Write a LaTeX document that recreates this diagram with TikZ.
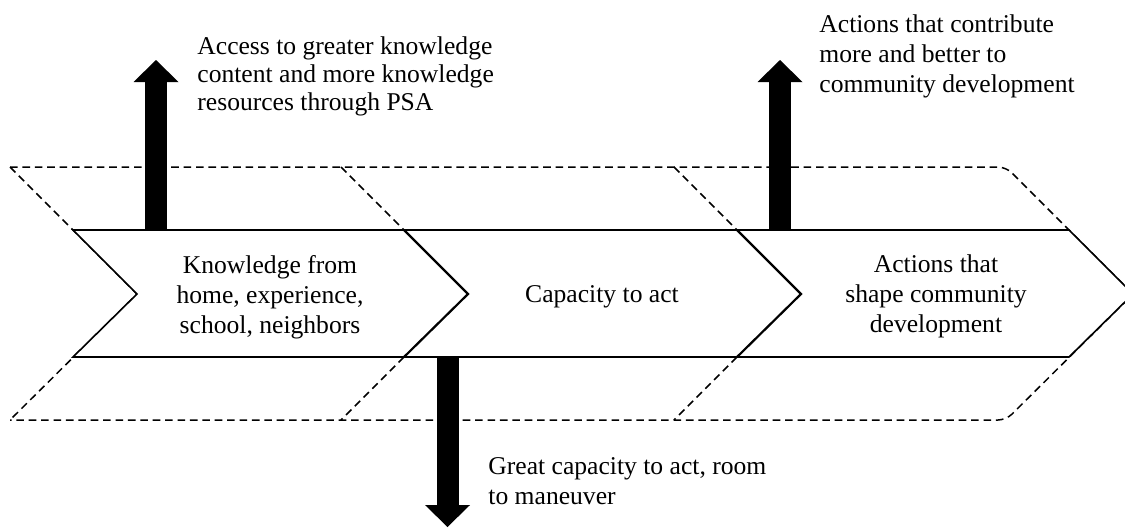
\documentclass[tikz,border=0pt]{standalone}
\usepackage{fontspec}
\setmainfont{Liberation Serif}
\usepackage{tikz}
\usetikzlibrary{arrows.meta}
\usetikzlibrary{positioning}
\tikzset{
	band text/.style={align=center,inner sep=0pt,font=\fontsize{12.8pt}{15pt}\selectfont},
	side text/.style={align=left,inner sep=0pt,anchor=north west,font=\fontsize{12.8pt}{15pt}\selectfont},
	band line/.style={line width=0.8pt,line join=miter},
	cut line/.style={line width=1.1pt,line join=miter},
	dash line/.style={line width=0.75pt,dash pattern=on 3.8pt off 2.4pt},
	block arrow/.style={line width=11pt,-{Triangle[width=22.5pt,length=11pt,line width=0pt]}}
}

\begin{document}
\begin{tikzpicture}[x=0.5pt,y=-0.5pt]
	\useasboundingbox (0,0) rectangle (1125,527);
	\clip (0,0) rectangle (1125,527);
	% outer frame
	\coordinate (otl) at (10,167);
	\coordinate (otr) at (1006,167);
	\coordinate (tip) at (1133,294);
	\coordinate (obr) at (1006,420);
	\coordinate (obl) at (10,420);
	\coordinate (notch) at (137,294);
	% band
	\coordinate (btl) at (73,230);
	\coordinate (btr) at (1069,230);
	\coordinate (bbr) at (1069,357);
	\coordinate (bbl) at (73,357);
	\draw[dash line,rounded corners=4pt] (otl) -- (otr) -- (tip) -- (obr) -- (obl);
	\draw[dash line] (otl) -- (notch) -- (obl);
	\draw[band line,fill=white] (btl) -- (btr) -- (tip) -- (bbr) -- (bbl) -- (notch) -- cycle;
	% first cut
	\coordinate (d1t) at (341,167);
	\coordinate (d1a) at (404,230);
	\coordinate (d1) at (468,294);
	\coordinate (d1b) at (404,357);
	\coordinate (d1d) at (341,420);
	\draw[dash line] (d1t) -- (d1a);
	\draw[cut line] (d1a) -- (d1) -- (d1b);
	\draw[dash line] (d1b) -- (d1d);
	% second cut
	\coordinate (d2t) at (674,167);
	\coordinate (d2a) at (737,230);
	\coordinate (d2) at (801,294);
	\coordinate (d2b) at (737,357);
	\coordinate (d2d) at (674,420);
	\draw[dash line] (d2t) -- (d2a);
	\draw[cut line] (d2a) -- (d2) -- (d2b);
	\draw[dash line] (d2b) -- (d2d);
	% arrows
	\coordinate (a1) at (156,230);
	\coordinate (a1e) at (156,60);
	\coordinate (a2) at (780,230);
	\coordinate (a2e) at (780,60);
	\coordinate (a3) at (447.5,357);
	\coordinate (a3e) at (447.5,527);
	\draw[block arrow] (a1) -- (a1e);
	\draw[block arrow] (a2) -- (a2e);
	\draw[block arrow] (a3) -- (a3e);
	% texts
	\node[band text] (k) at (270,297) {Knowledge from\\home, experience,\\school, neighbors};
	\node[band text] (c) at (602,297) {Capacity to act};
	\node[band text] (s) at (936,296) {Actions that\\shape community\\development};
	\node[side text,font=\fontsize{12.8pt}{14pt}\selectfont] (k up) at (197,36) {Access to greater knowledge\\content and more knowledge\\resources through PSA};
	\node[side text] (s up) at (819,14) {Actions that contribute\\more and better to\\community development};
	\node[side text] (c down) at (488,457) {Great capacity to act, room\\to maneuver};
\end{tikzpicture}
\end{document}
